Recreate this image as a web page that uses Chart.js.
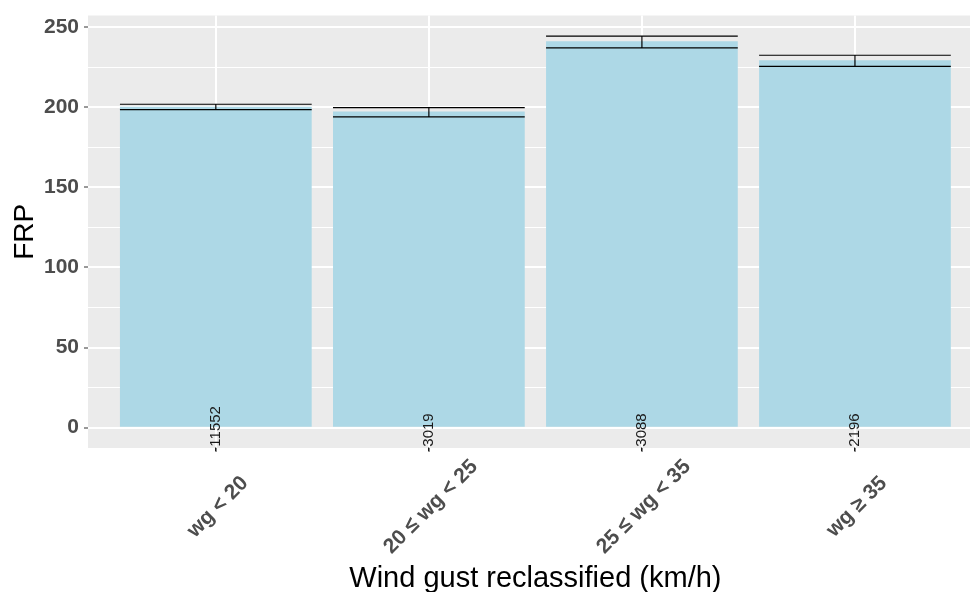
<!DOCTYPE html>
<html>
<head>
<meta charset="utf-8">
<script src="https://cdn.jsdelivr.net/npm/chart.js@4"></script>
<style>
  html, body { margin: 0; padding: 0; background: #fff; overflow: hidden; }
  canvas { display: block; }
</style>
</head>
<body>
<canvas id="frpChart" width="970" height="592"></canvas>
<script>
// ── Data ─────────────────────────────────────────────────────────────────────
const categories = ["wg < 20", "20 ≤ wg < 25", "25 ≤ wg < 35", "wg ≥ 35"];
const frpMean  = [200.4, 197.3, 241.3, 229.4];
const frpLower = [198.5, 194.0, 237.1, 225.5];
const frpUpper = [201.9, 199.8, 244.4, 232.5];
const counts   = ["-11552", "-3019", "-3088", "-2196"];
const yTicks   = [0, 25, 50, 75, 100, 125, 150, 175, 200, 225, 250];

// ── Styles ───────────────────────────────────────────────────────────────────
const FONT = "'Liberation Sans', Arial, sans-serif";
const PANEL_BG = "#EBEBEB";
const BAR_FILL = "#ADD8E6";
const AXIS_TEXT = "#4D4D4D";
const COUNT_LABEL_Y = -15;

// grey panel behind the grid
const panelBg = {
  id: "panelBg",
  beforeDraw(chart) {
    const { ctx, chartArea: a } = chart;
    ctx.save();
    ctx.fillStyle = PANEL_BG;
    ctx.fillRect(a.left, a.top, a.right - a.left, a.bottom - a.top);
    ctx.restore();
  }
};

// error bars from the lower/upper arrays
const errorBars = {
  id: "errorBars",
  afterDatasetsDraw(chart) {
    const { ctx, scales: { x, y } } = chart;
    const meta = chart.getDatasetMeta(0);
    ctx.save();
    ctx.strokeStyle = "#000";
    ctx.lineWidth = 1.2;
    frpMean.forEach((_, i) => {
      const cx = x.getPixelForValue(i);
      const half = meta.data[i].width / 2;
      const lo = y.getPixelForValue(frpLower[i]);
      const hi = y.getPixelForValue(frpUpper[i]);
      ctx.beginPath();
      ctx.moveTo(cx - half, hi); ctx.lineTo(cx + half, hi);
      ctx.moveTo(cx - half, lo); ctx.lineTo(cx + half, lo);
      ctx.moveTo(cx, lo); ctx.lineTo(cx, hi);
      ctx.stroke();
    });
    ctx.restore();
  }
};

// count labels, rotated tick labels and axis titles
const textLayer = {
  id: "textLayer",
  afterDraw(chart) {
    const { ctx, chartArea: a, scales: { x, y } } = chart;
    ctx.save();

    // counts at the foot of each bar
    ctx.fillStyle = "#1a1a1a";
    ctx.font = `15px ${FONT}`;
    ctx.textAlign = "left";
    ctx.textBaseline = "middle";
    counts.forEach((c, i) => {
      ctx.save();
      ctx.translate(x.getPixelForValue(i), y.getPixelForValue(COUNT_LABEL_Y));
      ctx.rotate(-Math.PI / 2);
      ctx.fillText(c, 0, 0);
      ctx.restore();
    });

    // x tick labels at 45 degrees
    ctx.fillStyle = AXIS_TEXT;
    ctx.font = `bold 21px ${FONT}`;
    ctx.textAlign = "center";
    categories.forEach((c, i) => {
      ctx.save();
      ctx.translate(x.getPixelForValue(i) + 2, a.bottom + 59);
      ctx.rotate(-Math.PI / 4);
      ctx.fillText(c, 0, 0);
      ctx.restore();
    });

    // axis titles
    ctx.fillStyle = "#000";
    ctx.font = `29px ${FONT}`;
    ctx.textBaseline = "alphabetic";
    const midX = (x.getPixelForValue(-0.6) + x.getPixelForValue(categories.length - 0.4)) / 2;
    ctx.fillText("Wind gust reclassified (km/h)", midX, 587);

    ctx.font = `28px ${FONT}`;
    ctx.textBaseline = "middle";
    ctx.save();
    ctx.translate(25, (a.top + a.bottom) / 2);
    ctx.rotate(-Math.PI / 2);
    ctx.fillText("FRP", 0, 0);
    ctx.restore();

    ctx.restore();
  }
};

new Chart(document.getElementById("frpChart"), {
  type: "bar",
  data: {
    datasets: [{
      data: frpMean.map((v, i) => ({ x: i, y: v })),
      backgroundColor: BAR_FILL,
      borderWidth: 0,
      categoryPercentage: 0.9,
      barPercentage: 1.0,
    }]
  },
  options: {
    responsive: false,
    animation: false,
    layout: { padding: { top: 15, left: 0, right: 0, bottom: 0 } },
    plugins: { legend: { display: false }, tooltip: { enabled: false } },
    scales: {
      x: {
        type: "linear",
        min: -0.6,
        max: 3.54,
        offset: false,
        afterBuildTicks: s => { s.ticks = categories.map((c, i) => ({ value: i })); },
        afterFit: s => { s.height = 144; },
        border: { display: false },
        grid: { offset: false, color: "#fff", lineWidth: 2, tickLength: 4, tickColor: "#333333", tickWidth: 1 },
        ticks: { callback: () => "", padding: 0, maxRotation: 0 }
      },
      y: {
        min: -12.7,
        max: 257.3,
        afterBuildTicks: s => { s.ticks = yTicks.map(v => ({ value: v })); },
        afterFit: s => { s.width = 88; },
        border: { display: false },
        grid: {
          color: "#fff",
          lineWidth: c => (c.tick && c.tick.value % 50 === 0) ? 2 : 1,
          tickLength: 4,
          tickColor: c => (c.tick && c.tick.value % 50 === 0) ? "#333333" : "rgba(0,0,0,0)",
          tickWidth: 1
        },
        ticks: {
          callback: v => v % 50 === 0 ? v : "",
          color: AXIS_TEXT,
          font: { family: FONT, size: 21, weight: "bold", lineHeight: 1 },
          padding: 5
        }
      }
    }
  },
  plugins: [panelBg, errorBars, textLayer]
});
</script>
</body>
</html>
